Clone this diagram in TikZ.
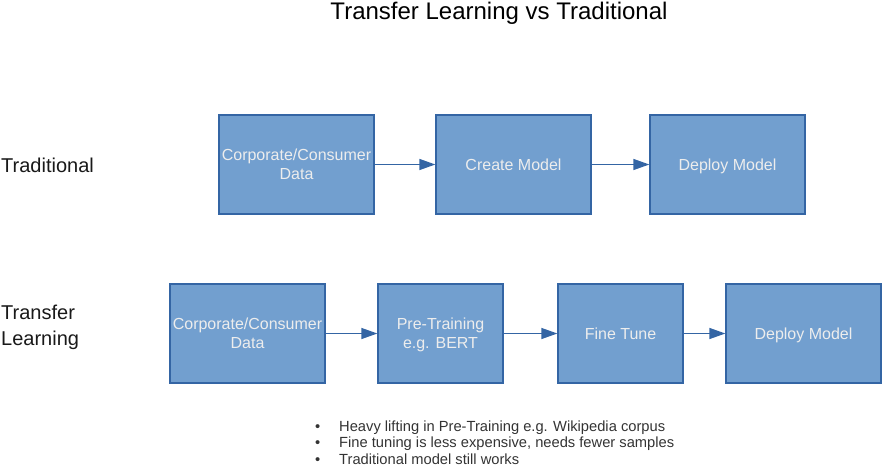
\documentclass[tikz,border=0pt]{standalone}
\usepackage{fontspec}
\setmainfont{Liberation Sans}
\usetikzlibrary{arrows.meta}

\definecolor{boxfill}{HTML}{729FCF}
\definecolor{boxline}{HTML}{3465A4}

\tikzset{
  stagebox/.style={draw=boxline, fill=boxfill, line width=1.3pt, text=white!93!black,
    minimum height=99pt, inner sep=2pt, align=center, text depth=0pt,
    font=\fontsize{16}{19}\selectfont},
  flow/.style={-{Triangle[length=16pt,width=11pt]}, draw=boxline, line width=1.3pt},
  rowlabel/.style={anchor=base west, inner sep=0pt, align=left, text=black!90,
    font=\fontsize{20}{26}\selectfont},
  noteline/.style={anchor=base west, inner sep=0pt, text=black!80,
    font=\fontsize{14.7}{16.5}\selectfont}
}

\begin{document}
\begin{tikzpicture}[x=1pt, y=-1pt]

\useasboundingbox (0,0) rectangle (882,466);

\node[anchor=base, inner sep=0pt, font=\fontsize{24}{28}\selectfont] (title) at (499,19) {Transfer Learning vs Traditional};

\node[rowlabel] (tradlabel) at (1,172) {Traditional};
\node[rowlabel] (translabel) at (1,345) {Transfer\\Learning};

\node[stagebox, minimum width=155pt] (tdata) at (296.5,164.5) {Corporate/Consumer\\Data};
\node[stagebox, minimum width=155pt] (tcreate) at (513.5,164.5) {Create Model};
\node[stagebox, minimum width=155pt] (tdeploy) at (727.5,164.5) {Deploy Model};

\node[stagebox, minimum width=155pt] (ldata) at (247.5,333.5) {Corporate/Consumer\\Data};
\node[stagebox, minimum width=125pt] (lpre) at (440.5,333.5) {Pre-Training\\e.g. BERT};
\node[stagebox, minimum width=125pt] (lfine) at (620.5,333.5) {Fine Tune};
\node[stagebox, minimum width=155pt] (ldeploy) at (803.5,333.5) {Deploy Model};

\draw[flow] (tdata) -- (tcreate);
\draw[flow] (tcreate) -- (tdeploy);
\draw[flow] (ldata) -- (lpre);
\draw[flow] (lpre) -- (lfine);
\draw[flow] (lfine) -- (ldeploy);

\node[noteline] (dot1) at (315,431.5) {\textbullet};
\node[noteline] (note1) at (339,431.5) {Heavy lifting in Pre-Training e.g. Wikipedia corpus};
\node[noteline] (dot2) at (315,447.5) {\textbullet};
\node[noteline] (note2) at (339,447.5) {Fine tuning is less expensive, needs fewer samples};
\node[noteline] (dot3) at (315,464) {\textbullet};
\node[noteline] (note3) at (339,464) {Traditional model still works};

\end{tikzpicture}
\end{document}
